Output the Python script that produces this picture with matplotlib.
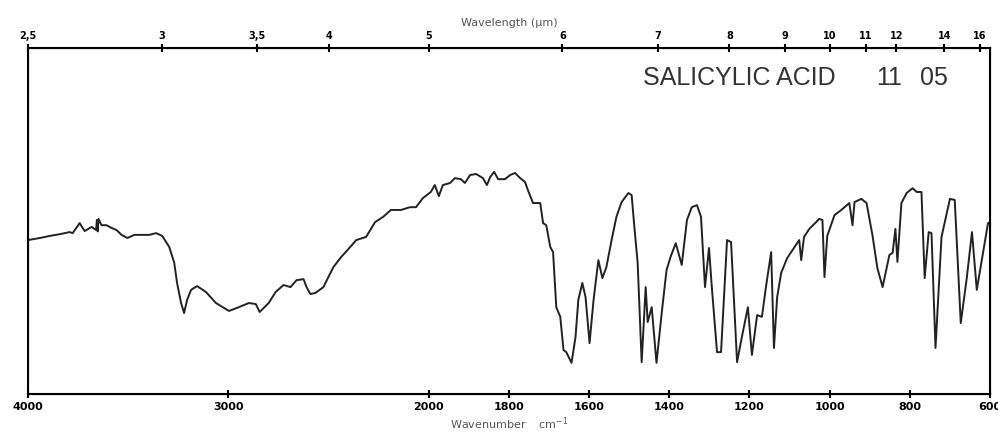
import numpy as np
import matplotlib
matplotlib.use("Agg")
import matplotlib.pyplot as plt

# IR spectrum of salicylic acid (wavenumber cm-1, transmittance %)
wavenumber = [4000, 3940, 3891, 3841, 3792, 3777, 3742, 3717, 3682, 3660, 3656, 3652, 3648,
              3633, 3608, 3583, 3558, 3533, 3504, 3469, 3429, 3395, 3360, 3330, 3295, 3270,
              3256, 3236, 3221, 3206, 3186, 3156, 3112, 3062, 2997, 2948, 2898, 2863, 2844,
              2809, 2799, 2764, 2725, 2690, 2660, 2625, 2610, 2591, 2566, 2526, 2501, 2476,
              2437, 2392, 2362, 2313, 2268, 2228, 2189, 2139, 2094, 2064, 2030, 1995, 1985,
              1975, 1965, 1947, 1935, 1920, 1910, 1897, 1882, 1865, 1855, 1847, 1837, 1827,
              1810, 1797, 1785, 1772, 1760, 1752, 1740, 1722, 1715, 1707, 1697, 1690, 1682,
              1672, 1664, 1657, 1644, 1634, 1627, 1617, 1609, 1599, 1589, 1577, 1567, 1557,
              1544, 1532, 1519, 1502, 1494, 1487, 1479, 1469, 1459, 1454, 1444, 1432, 1419,
              1407, 1397, 1384, 1369, 1356, 1344, 1331, 1321, 1311, 1301, 1294, 1281, 1271,
              1256, 1246, 1231, 1219, 1204, 1194, 1181, 1169, 1159, 1146, 1139, 1131, 1121,
              1106, 1084, 1076, 1071, 1064, 1051, 1026, 1018, 1013, 1006, 988, 971, 951, 943,
              938, 921, 908, 893, 881, 868, 851, 843, 836, 831, 821, 808, 793, 783, 771, 763,
              753, 746, 736, 721, 700, 688, 673, 658, 645, 633, 605, 600]
transmittance = [44.5, 45.1, 45.7, 46.2, 46.8, 46.5, 49.4, 47.1, 48.3, 47.4, 50.3, 47.0, 50.6,
                 48.8, 48.8, 48.0, 47.4, 46.0, 45.1, 46.0, 46.0, 46.0, 46.5, 45.7, 42.5, 37.9,
                 32.1, 26.3, 23.4, 27.2, 30.1, 31.2, 29.5, 26.3, 24.0, 25.1, 26.3, 26.0, 23.7,
                 25.7, 26.3, 29.5, 31.5, 30.9, 32.9, 33.2, 30.9, 28.9, 29.2, 30.9, 33.8, 36.7,
                 39.6, 42.5, 44.5, 45.4, 49.7, 51.2, 53.2, 53.2, 54.0, 54.0, 56.6, 58.4, 60.4,
                 57.2, 60.4, 61.0, 62.4, 62.1, 61.0, 63.3, 63.6, 62.4, 60.4, 62.7, 64.2, 62.1,
                 62.1, 63.3, 63.9, 62.4, 61.3, 58.7, 55.2, 55.2, 49.4, 48.8, 42.5, 41.0, 25.1,
                 22.3, 12.7, 12.1, 9.0, 16.5, 27.2, 32.1, 28.0, 14.7, 27.2, 38.7, 33.5, 36.7,
                 44.5, 51.2, 55.5, 58.1, 57.5, 48.0, 37.9, 9.2, 30.9, 20.8, 25.1, 9.0, 23.4,
                 35.8, 39.6, 43.6, 37.3, 50.3, 54.0, 54.6, 51.2, 30.9, 42.2, 30.9, 12.1, 12.1,
                 44.5, 43.9, 9.2, 16.5, 25.1, 11.3, 22.8, 22.3, 30.9, 41.0, 13.3, 28.0, 35.0,
                 39.3, 43.1, 44.5, 38.7, 45.4, 47.7, 50.6, 50.3, 33.8, 45.7, 51.7, 53.2, 55.2, 48.8,
                 55.5, 56.4, 55.2, 45.7, 36.4, 30.9, 40.2, 40.8, 47.7, 38.2, 55.2, 58.1, 59.5, 58.4, 58.4, 33.5,
                 46.8, 46.5, 13.3, 45.4, 56.4, 56.1, 20.5, 33.5, 46.8, 30.1, 49.4, 49.7]

wn_ticks = [4000, 3000, 2000, 1800, 1600, 1400, 1200, 1000, 800, 600]
um_ticks = [2.5, 3, 3.5, 4, 5, 6, 7, 8, 9, 10, 11, 12, 14, 16]
um_labels = ["2,5", "3", "3,5", "4", "5", "6", "7", "8", "9", "10", "11", "12", "14", "16"]


# grating change at 2000 cm-1: scale doubles below it
def fwd(x):
    x = np.asarray(x, dtype=float)
    return np.where(x <= 2000, 2 * x, x + 2000)


def inv(y):
    y = np.asarray(y, dtype=float)
    return np.where(y <= 4000, y / 2, y - 2000)


fig = plt.figure(figsize=(9.98, 4.37), dpi=100)
ax = fig.add_axes([0.028, 0.0984, 0.964, 0.7916])
ax.plot(wavenumber, transmittance, color="#222222", lw=1.4)
ax.set_xscale("function", functions=(fwd, inv))
ax.set_xlim(4000, 600)
ax.set_ylim(0, 100)
ax.set_yticks([])
ax.set_xticks(wn_ticks)
ax.set_xticklabels([str(t) for t in wn_ticks], fontsize=8, fontweight="bold")
ax.tick_params(axis="x", direction="inout", length=6, width=1.5, pad=3)
for s in ax.spines.values():
    s.set_linewidth(1.5)
ax.set_xlabel("Wavenumber    cm$^{-1}$", fontsize=8, color="#555555", labelpad=2)

ax2 = ax.twiny()
ax2.set_xscale("function", functions=(fwd, inv))
ax2.set_xlim(4000, 600)
ax2.set_xticks([1e4 / u for u in um_ticks])
ax2.set_xticklabels(um_labels, fontsize=7, fontweight="bold")
ax2.tick_params(axis="x", direction="inout", length=6, width=1.5, pad=2)
ax2.set_xlabel("Wavelength (\u00b5m)", fontsize=8, color="#555555", labelpad=4)

title_kw = dict(transform=ax.transAxes, fontsize=18, color="#333333",
                family="Liberation Sans", va="center", ha="left")
ax.text(0.639, 0.913, "SALICYLIC ACID", **title_kw)
ax.text(0.882, 0.913, "11", **title_kw)
ax.text(0.927, 0.913, "05", **title_kw)

fig.savefig("out.png", dpi=100)
